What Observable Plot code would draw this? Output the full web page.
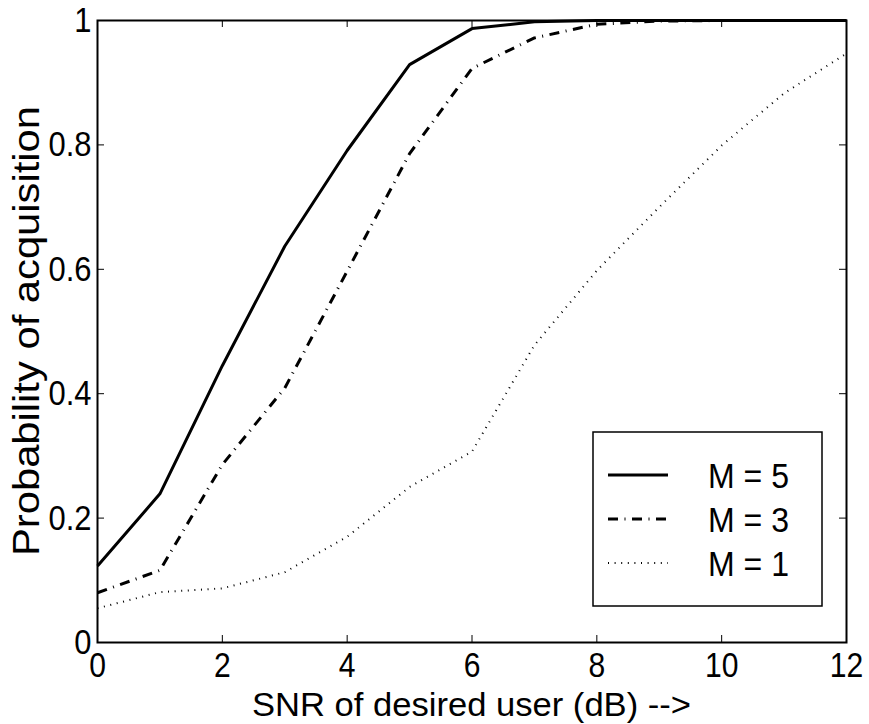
<!DOCTYPE html>
<html><head><meta charset="utf-8">
<script src="https://cdn.jsdelivr.net/npm/d3@7"></script>
<script src="https://cdn.jsdelivr.net/npm/@observablehq/plot@0.6"></script>
<style>
body{margin:0;background:#fff}
</style>
</head><body><div id="chart"></div>
<script>
const snr = [0,1,2,3,4,5,6,7,8,9,10,11,12];
const m5 = [0.123,0.239,0.445,0.637,0.791,0.929,0.987,0.998,1,1,1,1,1];
const m3 = [0.080,0.116,0.286,0.409,0.597,0.786,0.923,0.972,0.994,0.999,1,1,1];
const m1 = [0.055,0.081,0.087,0.113,0.170,0.250,0.307,0.478,0.598,0.700,0.799,0.883,0.947];
const seriesNames = ["M = 5","M = 3","M = 1"];
const xTicks = [0,2,4,6,8,10,12];
const yTicks = [0,0.2,0.4,0.6,0.8,1];
const yTickLabels = ["0","0.2","0.4","0.6","0.8","1"];
const xLabel = "SNR of desired user (dB) -->";
const yLabel = "Probability of acquisition";

const FONT = '"Liberation Sans",Arial,Helvetica,sans-serif';
const W = 869, H = 724, mL = 97, mR = 23, mT = 20, mB = 82;
const iw = W - mL - mR, ih = H - mT - mB, tk = 7;

const toRows = (vals) => snr.map((x, i) => ({snr: x, p: vals[i]}));
const styles = [
  {strokeWidth: 3, strokeDasharray: null},
  {strokeWidth: 3, strokeDasharray: "10,6.5,1,6.5"},
  {strokeWidth: 2, strokeDasharray: "1,5.6"}
];
const seriesVals = [m5, m3, m1];

const chart = Plot.plot({
  width: W, height: H,
  marginLeft: mL, marginRight: mR, marginTop: mT, marginBottom: mB,
  style: {fontFamily: FONT, background: "#fff", color: "#000"},
  x: {domain: [0, 12]},
  y: {domain: [0, 1]},
  marks: [
    Plot.tickY(yTicks, {y: d => d, insetRight: iw - tk, stroke: "#000", strokeWidth: 1}),
    Plot.tickY(yTicks, {y: d => d, insetLeft: iw - tk, stroke: "#000", strokeWidth: 1}),
    Plot.tickX(xTicks, {x: d => d, insetTop: ih - tk, stroke: "#000", strokeWidth: 1}),
    Plot.tickX(xTicks, {x: d => d, insetBottom: ih - tk, stroke: "#000", strokeWidth: 1}),
    Plot.axisX(xTicks, {tickSize: 0, tickPadding: 10, fontSize: 35, label: null, tickFormat: d => String(d)}),
    Plot.axisY(yTicks, {tickSize: 0, tickPadding: 6, fontSize: 36, label: null, tickFormat: d => yTickLabels[yTicks.indexOf(d)]}),
    ...seriesVals.map((vals, i) => Plot.line(toRows(vals), {
      x: "snr", y: "p", stroke: "#000",
      strokeWidth: styles[i].strokeWidth,
      strokeDasharray: styles[i].strokeDasharray,
      strokeLinecap: "butt", strokeLinejoin: "miter"
    })),
    Plot.frame({stroke: "#000", strokeWidth: 2})
  ]
});

document.getElementById("chart").appendChild(chart);

const svg = d3.select(chart);
// condense tick label glyphs horizontally, anchored at their own position
svg.selectAll("g[aria-label='x-axis tick label'] text, g[aria-label='y-axis tick label'] text")
  .each(function() {
    const t = this.getAttribute("transform") || "";
    this.setAttribute("transform", t + " scale(0.86,1)");
  });

// axis titles
svg.append("text")
  .attr("x", mL + iw / 2).attr("y", 716)
  .attr("text-anchor", "middle")
  .attr("font-family", FONT)
  .attr("font-size", 34)
  .attr("fill", "#000")
  .attr("textLength", 439).attr("lengthAdjust", "spacingAndGlyphs")
  .text(xLabel);
svg.append("text")
  .attr("transform", `translate(39,${mT + ih / 2}) rotate(-90)`)
  .attr("text-anchor", "middle")
  .attr("font-family", FONT)
  .attr("font-size", 37)
  .attr("fill", "#000")
  .attr("textLength", 450).attr("lengthAdjust", "spacingAndGlyphs")
  .text(yLabel);

// legend
const lg = svg.append("g");
lg.append("rect").attr("x", 593).attr("y", 432).attr("width", 229).attr("height", 174)
  .attr("fill", "#fff").attr("stroke", "#000").attr("stroke-width", 1.5);
seriesNames.forEach((name, i) => {
  const yy = 475 + i * 44;
  lg.append("line").attr("x1", 608).attr("x2", 668).attr("y1", yy).attr("y2", yy)
    .attr("stroke", "#000").attr("stroke-width", styles[i].strokeWidth)
    .attr("stroke-dasharray", styles[i].strokeDasharray);
  lg.append("text").attr("x", 708).attr("y", yy + 12.5)
    .attr("text-anchor", "start")
    .attr("font-family", FONT)
    .attr("font-size", 35).attr("fill", "#000")
    .attr("textLength", 81).attr("lengthAdjust", "spacingAndGlyphs")
    .text(name);
});
</script>
</body></html>
